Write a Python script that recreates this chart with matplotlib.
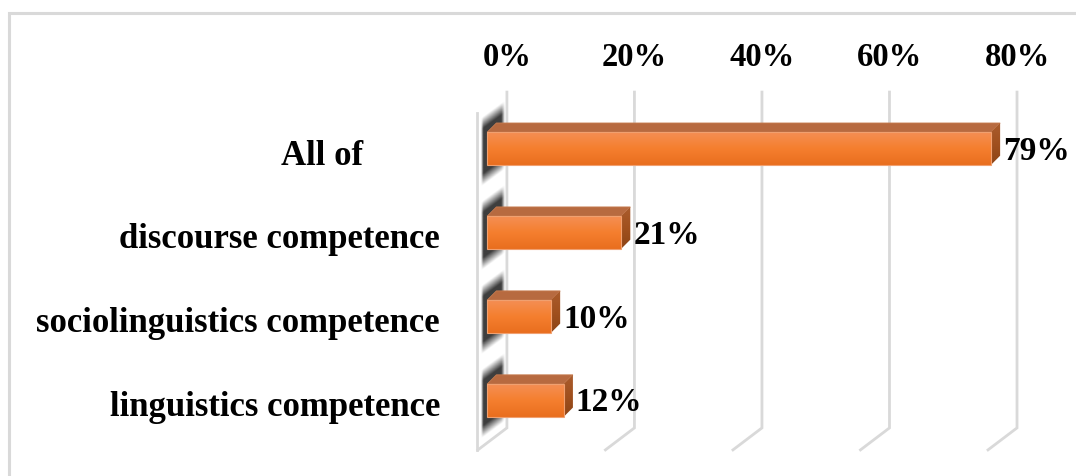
import numpy as np
import matplotlib.pyplot as plt
from matplotlib.patches import Polygon, Rectangle

# Survey results
categories = ['linguistics competence', 'sociolinguistics competence',
              'discourse competence', 'All of']
values = [12, 10, 21, 79]
ticks = [0, 20, 40, 60, 80]
tick_labels = ['0%', '20%', '40%', '60%', '80%']

plt.rcParams['font.family'] = ['Liberation Serif', 'DejaVu Serif']
plt.rcParams['font.weight'] = 'bold'

fig = plt.figure(figsize=(10.76, 4.76), dpi=100)
ax = fig.add_axes([0, 0, 1, 1])
ax.axis('off')

# pseudo-3D geometry (data units)
FRONT_DX = -3.1        # bar front plane relative to back wall
TOP_DX, TOP_DY = 1.45, 0.11
BAR_H = 0.39
GRID_TOP, GRID_BOT = 3.673, -0.327
FLOOR_DX, FLOOR_DY = -4.55, -0.262
WALL_X = -4.7
GRID_COL = '#d9d9d9'

# outer chart border
ax.add_patch(Rectangle((-78.1, -1.5), 200, 4.77 - 13 / 84 + 1.5,
                       fill=False, ec=GRID_COL, lw=2.2, zorder=0))

# back gridlines + floor edges
for g in ticks:
    ax.plot([g, g, g + FLOOR_DX], [GRID_TOP, GRID_BOT, GRID_BOT + FLOOR_DY],
            color=GRID_COL, lw=2, solid_joinstyle='miter', zorder=1)
ax.plot([WALL_X, WALL_X], [3.42, GRID_BOT + FLOOR_DY], color=GRID_COL, lw=2, zorder=1)

for g, lab in zip(ticks, tick_labels):
    ax.text(g, 4.09, lab, ha='center', va='center', fontsize=23.5)


def vgrad(c_top, c_mid, c_bot, n=64):
    t = np.linspace(0, 1, n)[:, None]
    c_top, c_mid, c_bot = (np.array(c) / 255 for c in (c_top, c_mid, c_bot))
    up = np.clip(t * 2, 0, 1)
    dn = np.clip(t * 2 - 1, 0, 1)
    col = np.where(t < 0.5, c_top * (1 - up) + c_mid * up, c_mid * (1 - dn) + c_bot * dn)
    return col[:, None, :].repeat(2, axis=1)


for i, (cat, v) in enumerate(zip(categories, values)):
    y0, y1 = i - BAR_H / 2, i + BAR_H / 2
    x0, x1 = FRONT_DX, v + FRONT_DX

    # soft shadow cast on the side wall
    nx, ny = 60, 160
    ylo, yhi = i - 0.6, i + 0.6
    xs = np.linspace(WALL_X, 0, nx)
    ys = np.linspace(yhi, ylo, ny)
    X, Y = np.meshgrid(xs, ys)
    frac = (X - WALL_X) / (0 - WALL_X)
    ctr = i - 0.08 + 0.26 * frac
    d = np.abs(Y - ctr)
    a_y = np.clip((0.41 - d) / 0.14, 0, 1)
    a_x = np.clip((frac - 0.13) / 0.08, 0, 1) * np.clip((0.94 - frac) / 0.12, 0, 1)
    rgba = np.zeros((ny, nx, 4))
    rgba[..., :3] = 0.2
    rgba[..., 3] = 0.95 * a_y * a_x
    ax.imshow(rgba, extent=[WALL_X, 0, ylo, yhi], aspect='auto',
              interpolation='bilinear', zorder=2)

    # top face
    ax.add_patch(Polygon([(x0, y1), (x1, y1), (x1 + TOP_DX, y1 + TOP_DY),
                          (x0 + TOP_DX, y1 + TOP_DY)], closed=True,
                         fc='#b76a40', ec='#c77c50', lw=0.6, zorder=3))
    # side face
    side = Polygon([(x1, y0), (x1, y1), (x1 + TOP_DX, y1 + TOP_DY),
                    (x1 + TOP_DX, y0 + TOP_DY)], closed=True, fc='none', ec='none', zorder=3)
    ax.add_patch(side)
    im = ax.imshow(vgrad((170, 92, 45), (160, 80, 30), (140, 68, 22)),
                   extent=[x1, x1 + TOP_DX, y0, y1 + TOP_DY], aspect='auto',
                   interpolation='bilinear', zorder=3)
    im.set_clip_path(side)
    # front face
    ax.imshow(vgrad((244, 142, 84), (245, 127, 46), (233, 110, 30)),
              extent=[x0, x1, y0, y1], aspect='auto',
              interpolation='bilinear', zorder=4)
    ax.add_patch(Rectangle((x0, y0), v, BAR_H, fill=False, ec='#f0a070', lw=0.8, zorder=4))

    # value label
    ax.text(x1 + 1.9, i - 0.03, f'{v}%', ha='left', va='center', fontsize=24, zorder=5)

    # category label
    if cat == 'All of':
        ax.text(-29.0, i - 0.1, cat, ha='center', va='center', fontsize=25)
    else:
        ax.text(-10.5, i - 0.08, cat, ha='right', va='center', fontsize=25)

ax.set_xlim(-79.5, 89.25)
ax.set_ylim(-0.9, 4.77)
fig.savefig('out.png', dpi=100)
